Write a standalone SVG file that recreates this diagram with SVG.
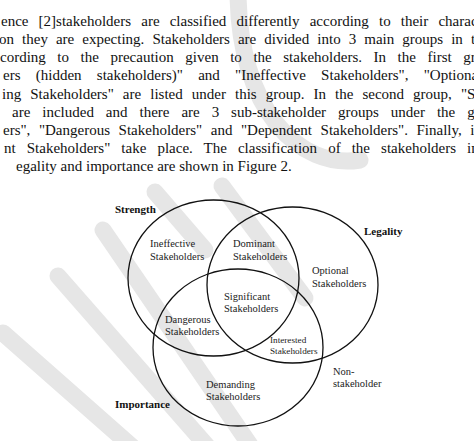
<svg xmlns="http://www.w3.org/2000/svg" width="474" height="441" viewBox="0 0 474 441">
<style>
.bg{fill:#ffffff}
.wm{fill:none;stroke:#e6e6e6;stroke-width:17;stroke-linecap:round}
.body{font-family:"Liberation Serif","Times New Roman",serif;font-size:15px;fill:#111}
.set{fill:none;stroke:#111;stroke-width:1.3}
.lbl{font-family:"Liberation Serif","Times New Roman",serif;font-size:10.5px;fill:#222}
.sm{font-size:9.2px}
.ttl{font-family:"Liberation Serif","Times New Roman",serif;font-size:11px;font-weight:bold;fill:#111}
</style>
<rect class="bg" x="0" y="0" width="474" height="441"/>
<g id="watermark">
<path class="wm" d="M3,333 L138,452"/>
<path class="wm" d="M58,276 L228,470"/>
<path class="wm" d="M103,230 L250,445"/>
<path class="wm" d="M155,192 L205,250"/>
<path class="wm" d="M222,186 L305,298"/>
<path class="wm" d="M238,-10 C238,110 300,170 360,160"/>
</g>
<g id="paragraph">
<text class="body" x="1" y="26" word-spacing="6.4">ence [2]stakeholders are classified differently according to their charac</text>
<text class="body" x="-1" y="44" word-spacing="4.3">on they are expecting. Stakeholders are divided into 3 main groups in t</text>
<text class="body" x="0" y="62" word-spacing="7.8">cording to the precaution given to the stakeholders. In the first gr</text>
<text class="body" x="3" y="80" word-spacing="11.5">ers (hidden stakeholders)" and "Ineffective Stakeholders", "Optiona</text>
<text class="body" x="2" y="98.5" word-spacing="5.3">ing Stakeholders" are listed under this group. In the second group, "S</text>
<text class="body" x="12" y="116.5" word-spacing="8.2">are included and there are 3 sub-stakeholder groups under the g</text>
<text class="body" x="3" y="134.5" word-spacing="4.8">ers", "Dangerous Stakeholders" and "Dependent Stakeholders". Finally, i</text>
<text class="body" x="4" y="152.5" word-spacing="7.3">nt Stakeholders" take place. The classification of the stakeholders in</text>
<text class="body" x="16" y="170.5">egality and importance are shown in Figure 2.</text>
</g>
<g id="strength">
<ellipse class="set" cx="213.5" cy="278" rx="85.5" ry="78"/>
<text class="ttl" x="115" y="213">Strength</text>
</g>
<g id="legality">
<ellipse class="set" cx="292.5" cy="285" rx="85.5" ry="78"/>
<text class="ttl" x="364" y="235">Legality</text>
</g>
<g id="importance">
<ellipse class="set" cx="238" cy="347.5" rx="85" ry="78.5"/>
<text class="ttl" x="115" y="408">Importance</text>
</g>
<g id="ineffective"><text class="lbl" x="150" y="247">Ineffective</text><text class="lbl" x="150" y="259.5">Stakeholders</text></g>
<g id="dominant"><text class="lbl" x="233" y="247">Dominant</text><text class="lbl" x="233" y="259.5">Stakeholders</text></g>
<g id="optional"><text class="lbl" x="312" y="274">Optional</text><text class="lbl" x="312" y="286.5">Stakeholders</text></g>
<g id="significant"><text class="lbl" x="224" y="299.5">Significant</text><text class="lbl" x="224" y="312">Stakeholders</text></g>
<g id="dangerous"><text class="lbl" x="165" y="322.5">Dangerous</text><text class="lbl" x="165" y="335">Stakeholders</text></g>
<g id="interested"><text class="lbl sm" x="270" y="343.3">Interested</text><text class="lbl sm" x="270" y="354.3">Stakeholders</text></g>
<g id="demanding"><text class="lbl" x="206" y="387.5">Demanding</text><text class="lbl" x="206" y="400">Stakeholders</text></g>
<g id="nonstakeholder"><text class="lbl" x="333" y="375">Non-</text><text class="lbl" x="333" y="387">stakeholder</text></g>
</svg>
